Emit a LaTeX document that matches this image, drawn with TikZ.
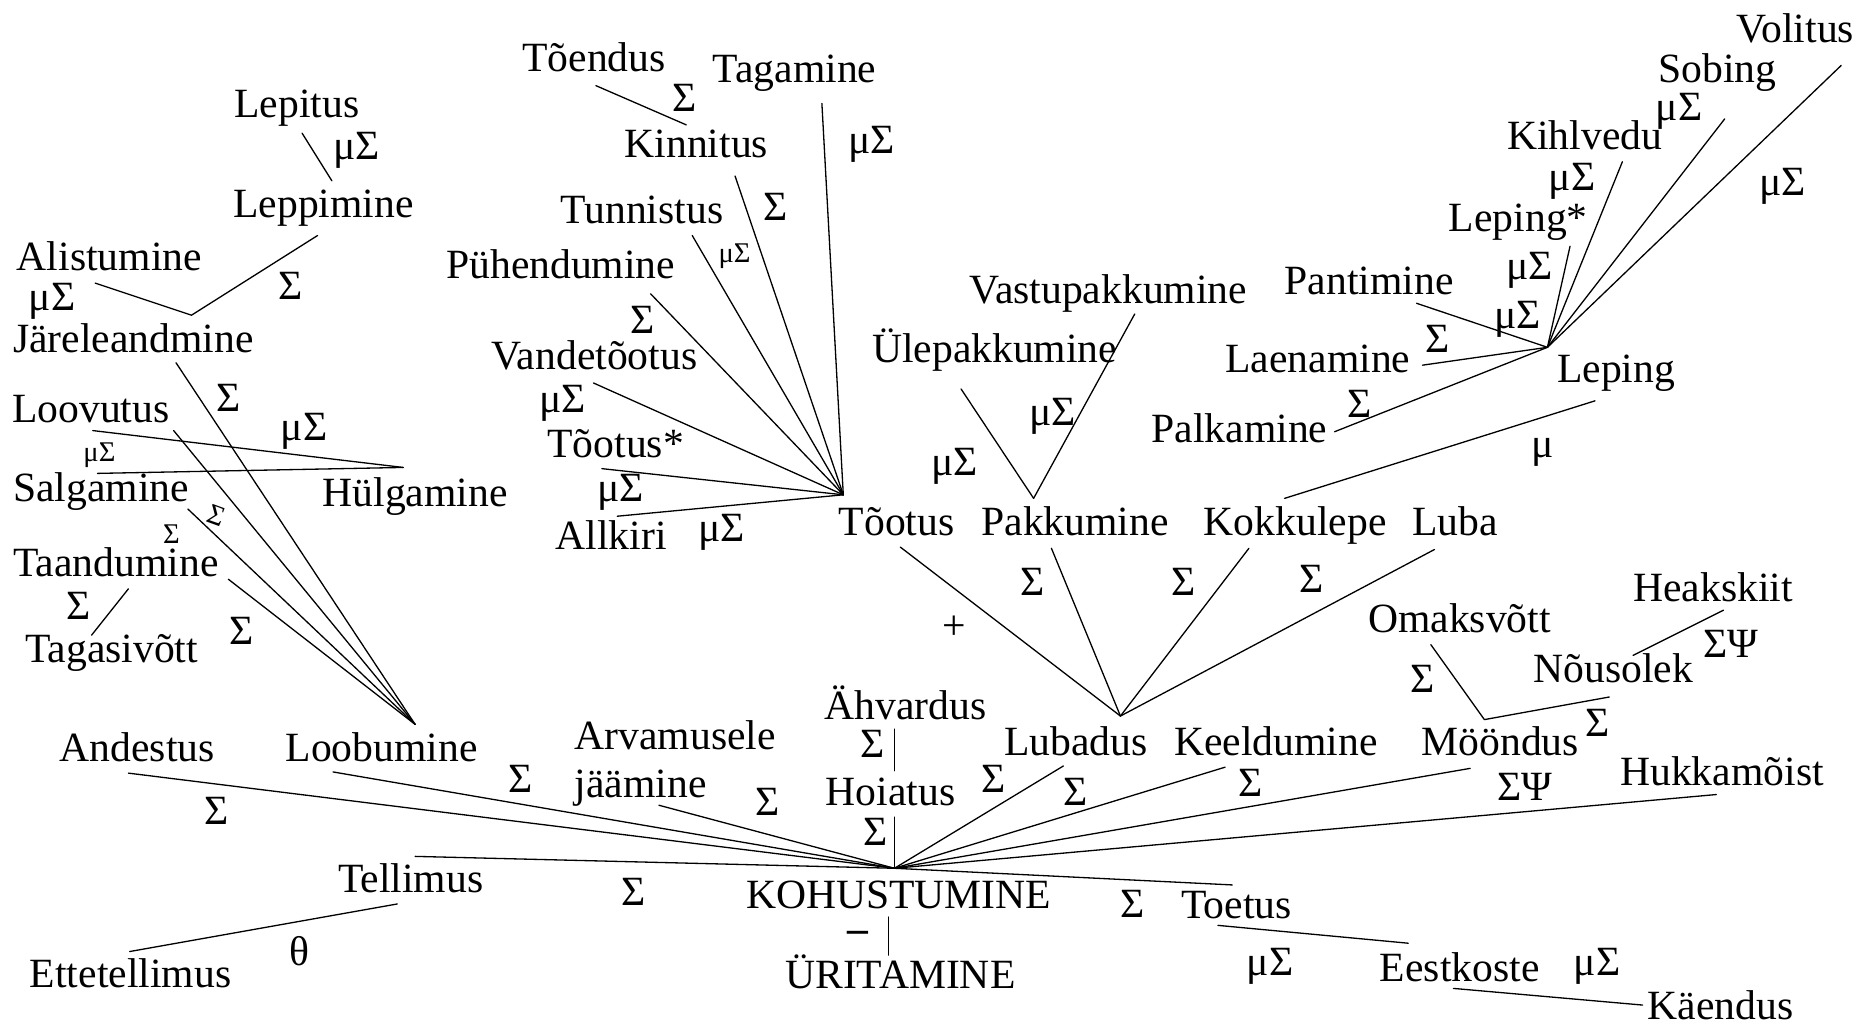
\documentclass[tikz,border=0pt]{standalone}
\usepackage{fontspec}
\setmainfont{Liberation Serif}
\begin{document}
\begin{tikzpicture}[x=1pt,y=-1pt,
  term/.style={anchor=base west,inner sep=0pt,font=\fontsize{35}{40}\selectfont},
  tag/.style={anchor=base west,inner sep=0pt,font=\fontsize{35}{40}\selectfont},
  tinytag/.style={anchor=base west,inner sep=0pt,font=\fontsize{24}{26}\selectfont},
  link/.style={line width=1.1pt,line cap=round,line join=round}]
\useasboundingbox (0,0) rectangle (1568,862);

% ---------- terms ----------
\node[term] (lepitus) at (197,99) {Lepitus};
\node[term] (leppimine) at (196,183) {Leppimine};
\node[term] (alistumine) at (14,227) {Alistumine};
\node[term] (jareleandmine) at (11,296) {Järeleandmine};
\node[term] (loovutus) at (10,355) {Loovutus};
\node[term] (hulgamine) at (271,426) {Hülgamine};
\node[term] (salgamine) at (11,422) {Salgamine};
\node[term] (taandumine) at (11,485) {Taandumine};
\node[term] (tagasivott) at (21,557) {Tagasivõtt};
\node[term] (andestus) at (50,640) {Andestus};
\node[term] (loobumine) at (240,640) {Loobumine};
\node[term,anchor=north west,align=left] (arvamusele) at (483,606) {Arvamusele\\jäämine};
\node[term] (tellimus) at (284,750) {Tellimus};
\node[term] (ettetellimus) at (25,830) {Ettetellimus};
\node[term] (ahvardus) at (693,605) {Ähvardus};
\node[term] (hoiatus) at (694,677) {Hoiatus};
\node[term] (kohustumine) at (627,764) {KOHUSTUMINE};
\node[term] (uritamine) at (660,831) {ÜRITAMINE};
\node[term] (lubadus) at (844,635) {Lubadus};
\node[term] (keeldumine) at (987,635) {Keeldumine};
\node[term] (moondus) at (1195,635) {Mööndus};
\node[term] (hukkamoist) at (1362,660) {Hukkamõist};
\node[term] (toetus) at (993,772) {Toetus};
\node[term] (eestkoste) at (1160,825) {Eestkoste};
\node[term] (kaendus) at (1385,857) {Käendus};
\node[term] (omaksvott) at (1150,532) {Omaksvõtt};
\node[term] (nousolek) at (1289,574) {Nõusolek};
\node[term] (heakskiit) at (1373,506) {Heakskiit};
\node[term] (tootus) at (705,450) {Tõotus};
\node[term] (pakkumine) at (825,450) {Pakkumine};
\node[term] (kokkulepe) at (1012,450) {Kokkulepe};
\node[term] (luba) at (1187,450) {Luba};
\node[term] (ylepakkumine) at (733,305) {Ülepakkumine};
\node[term] (vastupakkumine) at (815,255) {Vastupakkumine};
\node[term] (leping) at (1309,322) {Leping};
\node[term] (palkamine) at (968,372) {Palkamine};
\node[term] (laenamine) at (1030,313) {Laenamine};
\node[term] (pantimine) at (1080,248) {Pantimine};
\node[term] (lepingx) at (1218,195) {Leping*};
\node[term] (kihlvedu) at (1267,126) {Kihlvedu};
\node[term] (sobing) at (1394,69) {Sobing};
\node[term] (volitus) at (1460,36) {Volitus};
\node[term] (toendus) at (439,60) {Tõendus};
\node[term] (tagamine) at (599,69) {Tagamine};
\node[term] (kinnitus) at (525,132) {Kinnitus};
\node[term] (tunnistus) at (471,188) {Tunnistus};
\node[term] (puhendumine) at (375,234) {Pühendumine};
\node[term] (vandetootus) at (413,311) {Vandetõotus};
\node[term] (tootusx) at (460,385) {Tõotus*};
\node[term] (allkiri) at (467,462) {Allkiri};

% ---------- hubs where the branches meet ----------
\coordinate (hubK) at (752,730);   % KOHUSTUMINE
\coordinate (hubL) at (349,609);   % Loobumine
\coordinate (hubT) at (709,416);   % Tõotus
\coordinate (hubP) at (942,602);   % Lubadus
\coordinate (hubG) at (1301,292);  % Leping
\coordinate (kneeJ) at (161,265);  % Järeleandmine
\coordinate (kneeP) at (869,419);  % Pakkumine
\coordinate (kneeM) at (1248,605); % Mööndus

% ---------- branch ends ----------
\coordinate (lepitusE) at (254,112);
\coordinate (leppimineT) at (279,152);
\coordinate (leppimineB) at (267,198);
\coordinate (alistumineE) at (80,238);
\coordinate (jareleandmineE) at (148,305);
\coordinate (loovutusE) at (146,362);
\coordinate (loovutusH) at (78,362);
\coordinate (salgamineE) at (158,428);
\coordinate (salgamineH) at (82,398);
\coordinate (hulgamineE) at (339,393);
\coordinate (taandumineE) at (192,487);
\coordinate (taandumineT) at (108,495);
\coordinate (tagasivottE) at (77,534);
\coordinate (andestusE) at (108,650);
\coordinate (loobumineE) at (280,649);
\coordinate (jaamineE) at (554,677);
\coordinate (tellimusE) at (349,720);
\coordinate (tellimusB) at (334,760);
\coordinate (ettetellimusE) at (109,800);
\coordinate (ahvardusE) at (752,613);
\coordinate (hoiatusT) at (752,648);
\coordinate (hoiatusB) at (752,687);
\coordinate (kohustumineB) at (747,771);
\coordinate (uritamineE) at (747,803);
\coordinate (lubadusE) at (894,644);
\coordinate (keeldumineE) at (1030,645);
\coordinate (moondusE) at (1236,646);
\coordinate (hukkamoistE) at (1443,668);
\coordinate (toetusE) at (1036,744);
\coordinate (toetusB) at (1024,778);
\coordinate (eestkosteT) at (1184,793);
\coordinate (eestkosteB) at (1222,831);
\coordinate (kaendusE) at (1381,845);
\coordinate (omaksvottE) at (1203,542);
\coordinate (nousolekE) at (1353,586);
\coordinate (nousolekT) at (1373,551);
\coordinate (heakskiitE) at (1449,513);
\coordinate (tootusE) at (757,460);
\coordinate (pakkumineE) at (884,461);
\coordinate (kokkulepeE) at (1050,461);
\coordinate (kokkulepeT) at (1080,419);
\coordinate (lubaE) at (1206,462);
\coordinate (ylepakkumineE) at (808,327);
\coordinate (vastupakkumineE) at (954,264);
\coordinate (lepingE) at (1341,337);
\coordinate (palkamineE) at (1122,363);
\coordinate (laenamineE) at (1196,307);
\coordinate (pantimineE) at (1191,255);
\coordinate (lepingxE) at (1320,207);
\coordinate (kihlveduE) at (1364,136);
\coordinate (sobingE) at (1450,100);
\coordinate (volitusE) at (1548,55);
\coordinate (toendusE) at (501,72);
\coordinate (kinnitusT) at (577,105);
\coordinate (kinnitusE) at (618,148);
\coordinate (tagamineE) at (691,87);
\coordinate (tunnistusE) at (582,198);
\coordinate (puhendumineE) at (547,247);
\coordinate (vandetootusE) at (499,322);
\coordinate (tootusxE) at (506,394);
\coordinate (allkiriE) at (519,434);

% ---------- connectors ----------
\draw[link] (lepitusE) -- (leppimineT);
\draw[link] (alistumineE) -- (kneeJ) -- (leppimineB);
\foreach \e in {jareleandmineE,loovutusE,salgamineE,taandumineE}
  \draw[link] (\e) -- (hubL);
\draw[link] (loovutusH) -- (hulgamineE);
\draw[link] (salgamineH) -- (hulgamineE);
\draw[link] (taandumineT) -- (tagasivottE);
\foreach \e in {andestusE,loobumineE,jaamineE,tellimusE,hoiatusB,lubadusE,keeldumineE,moondusE,hukkamoistE,toetusE}
  \draw[link] (\e) -- (hubK);
\draw[link] (ahvardusE) -- (hoiatusT);
\draw[link] (kohustumineB) -- (uritamineE);
\draw[link] (tellimusB) -- (ettetellimusE);
\draw[link] (toetusB) -- (eestkosteT);
\draw[link] (eestkosteB) -- (kaendusE);
\draw[link] (omaksvottE) -- (kneeM) -- (nousolekE);
\draw[link] (heakskiitE) -- (nousolekT);
\foreach \e in {tootusE,pakkumineE,kokkulepeE,lubaE}
  \draw[link] (\e) -- (hubP);
\draw[link] (ylepakkumineE) -- (kneeP) -- (vastupakkumineE);
\draw[link] (kokkulepeT) -- (lepingE);
\foreach \e in {palkamineE,laenamineE,pantimineE,lepingxE,kihlveduE,sobingE,volitusE}
  \draw[link] (\e) -- (hubG);
\foreach \e in {allkiriE,tootusxE,vandetootusE,puhendumineE,tunnistusE,kinnitusE,tagamineE}
  \draw[link] (\e) -- (hubT);
\draw[link] (toendusE) -- (kinnitusT);

% ---------- branch labels ----------
\node[tag] at (280,134) {μΣ};
\node[tag] at (24,261) {μΣ};
\node[tag] at (234,252) {Σ};
\node[tag] at (182,346) {Σ};
\node[tag] at (236,370) {μΣ};
\node[tinytag] at (70,388) {μΣ};
\node[tinytag,rotate=-20] at (173,438) {Σ};
\node[tinytag] at (137,457) {Σ};
\node[tag] at (56,521) {Σ};
\node[tag] at (193,542) {Σ};
\node[tag] at (172,693) {Σ};
\node[tag] at (427,666) {Σ};
\node[tag] at (635,686) {Σ};
\node[tag] at (522,761) {Σ};
\node[tag] at (243,812) {θ};
\node[tag] at (723,637) {Σ};
\node[tag] at (726,711) {Σ};
\node[tag,font=\fontsize{35}{40}\selectfont\bfseries] at (712,792) {–};
\node[tag] at (825,666) {Σ};
\node[tag] at (894,677) {Σ};
\node[tag] at (1041,670) {Σ};
\node[tag] at (1259,673) {ΣΨ};
\node[tag] at (942,771) {Σ};
\node[tag] at (1048,820) {μΣ};
\node[tag] at (1323,820) {μΣ};
\node[tag] at (1186,582) {Σ};
\node[tag] at (1333,619) {Σ};
\node[tag] at (1432,553) {ΣΨ};
\node[tag] at (858,501) {Σ};
\node[tag] at (985,501) {Σ};
\node[tag] at (1092,498) {Σ};
\node[inner sep=0pt,font=\fontsize{35}{40}\selectfont] at (802,528) {+};
\node[tag] at (865,358) {μΣ};
\node[tag] at (783,400) {μΣ};
\node[tag] at (1287,385) {μ};
\node[tag] at (1133,351) {Σ};
\node[tag] at (1198,296) {Σ};
\node[tag] at (1256,276) {μΣ};
\node[tag] at (1266,235) {μΣ};
\node[tag] at (1302,160) {μΣ};
\node[tag] at (1392,101) {μΣ};
\node[tag] at (1479,164) {μΣ};
\node[tag] at (565,94) {Σ};
\node[tag] at (713,129) {μΣ};
\node[tag] at (642,185) {Σ};
\node[tinytag] at (604,221) {μΣ};
\node[tag] at (530,280) {Σ};
\node[tag] at (453,347) {μΣ};
\node[tag] at (502,422) {μΣ};
\node[tag] at (587,455) {μΣ};
\end{tikzpicture}
\end{document}
